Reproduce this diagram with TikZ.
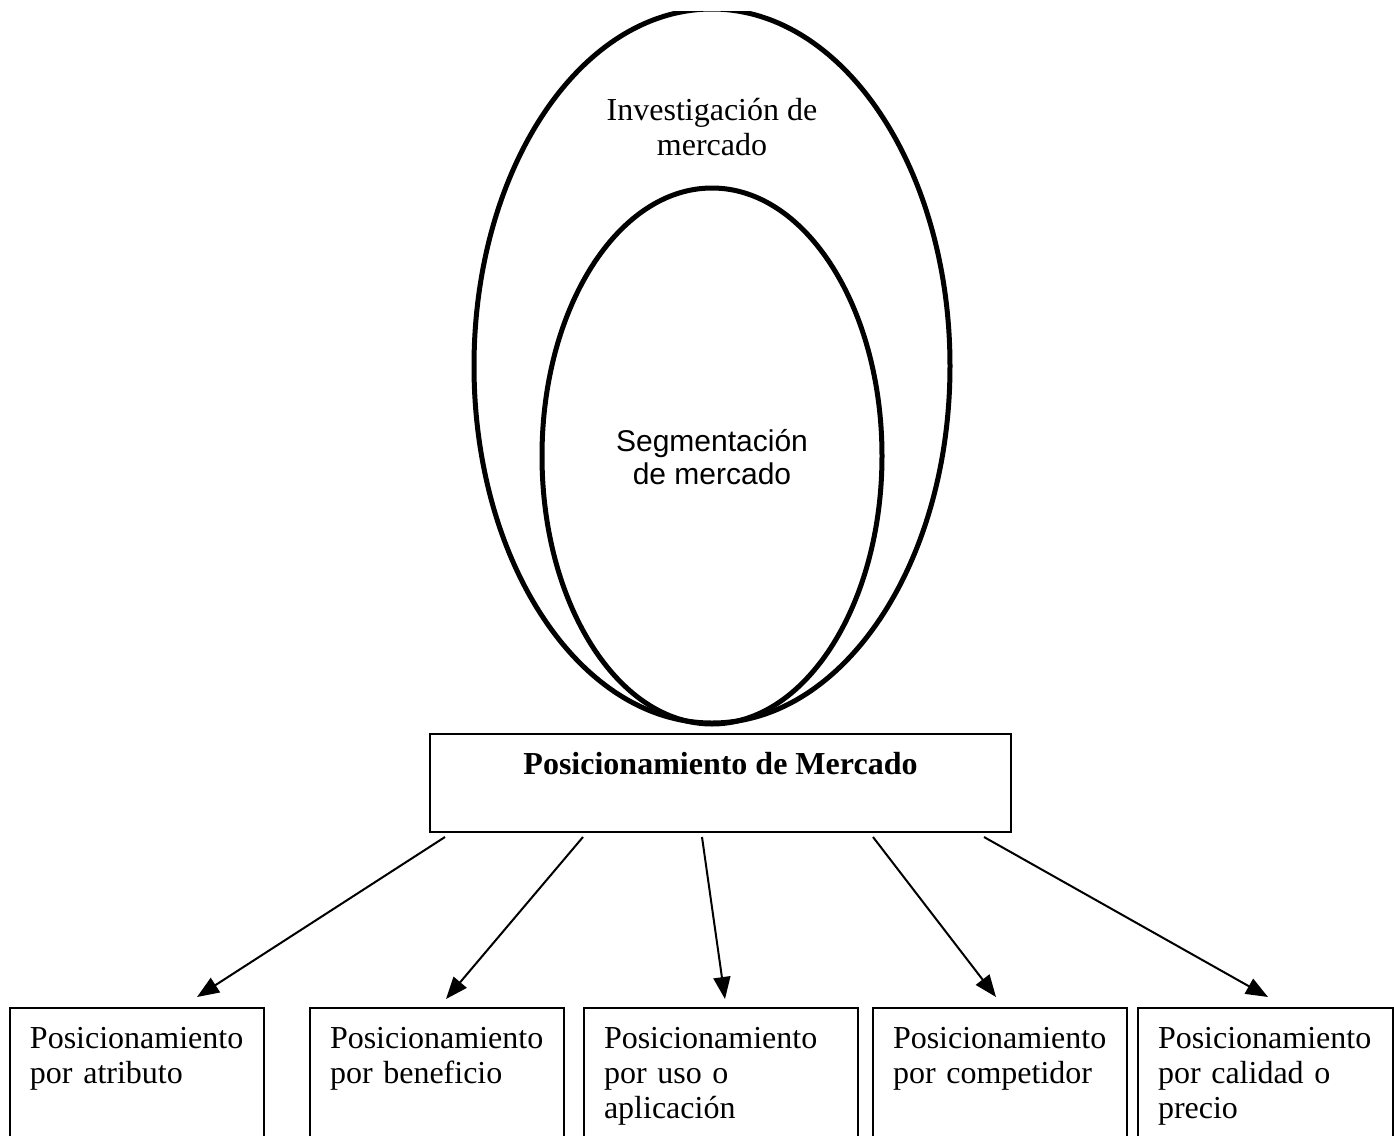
\documentclass[tikz,border=0pt]{standalone}
\usepackage{fontspec}
\setmainfont{Liberation Serif}
\newfontfamily\segfont{Liberation Sans}
\usetikzlibrary{arrows.meta}
\begin{document}
\begin{tikzpicture}[x=0.5pt,y=-0.5pt,
  ring/.style={line width=2.5pt},
  txt/.style={font=\fontsize{16}{17.5}\selectfont, align=center, inner sep=0pt},
  mainbox/.style={draw, line width=1pt, minimum width=290.5pt, minimum height=49pt,
    inner xsep=0pt, inner ysep=9pt, text height=11pt, text depth=20pt, anchor=north,
    font=\bfseries\fontsize{16}{17.5}\selectfont},
  pbox/.style={draw, line width=1pt, anchor=north west, align=left,
    inner xsep=10pt, inner ysep=9pt, text height=11pt, text depth=60pt,
    font=\fontsize{16}{17.5}\selectfont},
  conn/.style={line width=1pt, -{Triangle[length=11pt,width=8.5pt]}}]
\useasboundingbox (0,0) rectangle (1394,1136);
\begin{scope}
\clip (0,11) rectangle (1394,1136);
\draw[ring] (712,366) ellipse [x radius=238, y radius=357];
\draw[ring] (712,456) ellipse [x radius=170, y radius=268];
\end{scope}
\node[txt] (inv) at (712,127) {Investigación de\\mercado};
\node[txt, font=\segfont\fontsize{15}{16.2}\selectfont] (seg) at (712,457) {Segmentación\\de mercado};
\node[mainbox] (main) at (720.5,733) {Posicionamiento de Mercado};
\begin{scope}
\clip (0,0) rectangle (1394,1136);
\node[pbox, text width=107pt] (b1) at (9,1007) {Posicionamiento\\por atributo};
\node[pbox, text width=107pt] (b2) at (309,1007) {Posicionamiento\\por beneficio};
\node[pbox, text width=117pt] (b3) at (583,1007) {Posicionamiento\\por uso o\\aplicación};
\node[pbox, text width=107pt] (b4) at (872,1007) {Posicionamiento\\por competidor};
\node[pbox, text width=107.5pt] (b5) at (1137,1007) {Posicionamiento\\por calidad o\\precio};
\end{scope}
\coordinate (s1) at (445,837);
\coordinate (s2) at (583,837);
\coordinate (s3) at (702,837);
\coordinate (s4) at (873,837);
\coordinate (s5) at (984,837);
\coordinate (e1) at (197,997);
\coordinate (e2) at (446,999);
\coordinate (e3) at (725,999);
\coordinate (e4) at (996,997);
\coordinate (e5) at (1268,997);
\draw[conn] (s1) -- (e1);
\draw[conn] (s2) -- (e2);
\draw[conn] (s3) -- (e3);
\draw[conn] (s4) -- (e4);
\draw[conn] (s5) -- (e5);
\end{tikzpicture}
\end{document}
